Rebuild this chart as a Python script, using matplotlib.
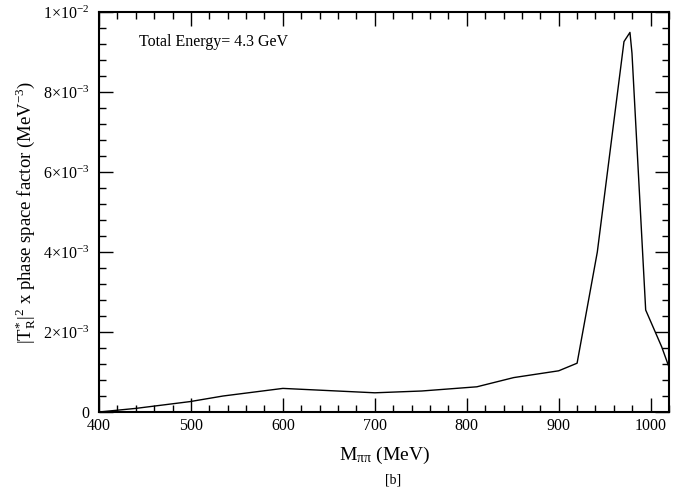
import matplotlib

matplotlib.use("Agg")
import matplotlib.pyplot as plt
from matplotlib.ticker import FixedLocator, MultipleLocator

plt.rcParams.update({
    "font.family": "Liberation Serif",
    "mathtext.fontset": "custom",
    "mathtext.rm": "Liberation Serif",
    "mathtext.it": "Liberation Serif:italic",
    "mathtext.bf": "Liberation Serif:bold",
})

# invariant mass (MeV) and |T_R|^2 x phase space factor (MeV^-3)
M_PIPI = [400, 440, 499, 535, 600, 700, 751, 811, 851, 900, 920, 942, 971, 977.5, 979.7, 994.6, 1012, 1020]
AMP = [0.0, 0.9e-4, 2.6e-4, 4.0e-4, 5.9e-4, 4.8e-4, 5.25e-4, 6.3e-4, 8.6e-4, 1.03e-3, 1.22e-3,
       4.0e-3, 9.26e-3, 9.49e-3, 8.97e-3, 2.55e-3, 1.63e-3, 1.12e-3]

Y_TICKS = [0, 2e-3, 4e-3, 6e-3, 8e-3, 1e-2]
Y_LABELS = ["0", r"$2{\times}10^{-3}$", r"$4{\times}10^{-3}$", r"$6{\times}10^{-3}$",
            r"$8{\times}10^{-3}$", r"$1{\times}10^{-2}$"]
X_TICKS = [400, 500, 600, 700, 800, 900, 1000]

fig = plt.figure(figsize=(6.98, 5.0), dpi=100)
ax = fig.add_axes([0.1418, 0.176, 0.8167, 0.8])

ax.plot(M_PIPI, AMP, color="black", linewidth=1.0)

ax.set_xlim(400, 1020)
ax.set_ylim(0, 1e-2)
ax.xaxis.set_major_locator(FixedLocator(X_TICKS))
ax.xaxis.set_minor_locator(MultipleLocator(20))
ax.yaxis.set_major_locator(FixedLocator(Y_TICKS))
ax.yaxis.set_minor_locator(MultipleLocator(4e-4))
ax.set_yticklabels(Y_LABELS)

ax.tick_params(which="both", direction="in", top=True, right=True, labelsize=11.5)
ax.tick_params(which="major", length=10, width=1.0)
ax.tick_params(which="minor", length=5, width=1.0)
ax.tick_params(axis="x", pad=4)
ax.tick_params(axis="y", pad=7)
for sp in ax.spines.values():
    sp.set_linewidth(1.5)

ax.set_xlabel(r"M$_{\mathrm{ππ}}$ (MeV)", fontsize=14, labelpad=8)
ax.set_ylabel(r"$|\mathrm{T}^{*}_{\mathrm{R}}|^{2}$ x phase space factor (MeV$^{-3}$)", fontsize=13.5, labelpad=3)
fig.text(0.563, 0.032, "[b]", fontsize=10, ha="center")
ax.text(0.07, 0.915, "Total Energy= 4.3 GeV", transform=ax.transAxes, fontsize=11.5)

fig.savefig("out.png", dpi=100)
